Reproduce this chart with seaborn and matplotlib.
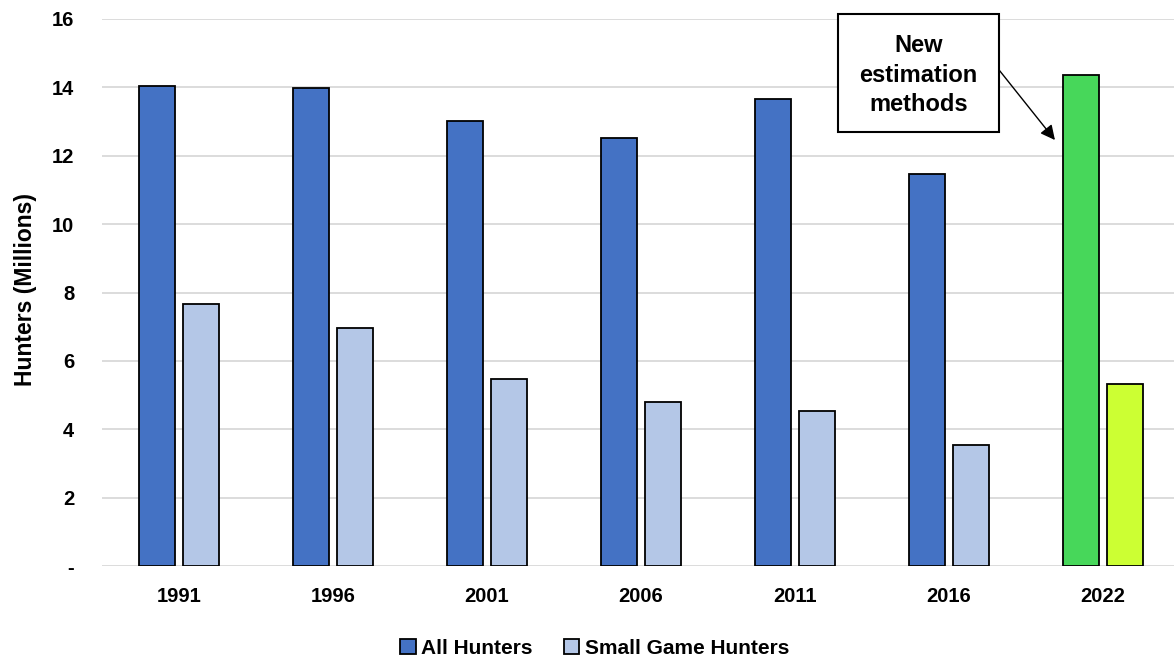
import pandas as pd
import matplotlib
matplotlib.use("Agg")
import matplotlib.pyplot as plt
from matplotlib.patches import Rectangle
import seaborn as sns

# data (millions of hunters)
years = ["1991", "1996", "2001", "2006", "2011", "2016", "2022"]
all_hunters = [14.04, 13.98, 13.02, 12.52, 13.66, 11.46, 14.36]
small_game = [7.66, 6.96, 5.47, 4.80, 4.53, 3.54, 5.32]
series = ["All Hunters", "Small Game Hunters"]
colors = ["#4472C4", "#B4C7E7"]
colors_2022 = ["#47D75A", "#CCFF33"]

df = pd.DataFrame({
    "Year": years * 2,
    "Hunters": all_hunters + small_game,
    "Series": [series[0]] * len(years) + [series[1]] * len(years),
})

sns.set_style("white")
plt.rcParams["font.family"] = "Liberation Sans"
plt.rcParams["font.weight"] = "bold"
for k in ["text.color", "axes.labelcolor", "xtick.color", "ytick.color"]:
    plt.rcParams[k] = "black"

fig = plt.figure(figsize=(11.74, 6.6), dpi=100)
ax = fig.add_axes([102 / 1174, 94 / 660, 1078 / 1174, 547 / 660])

sns.barplot(data=df, x="Year", y="Hunters", hue="Series", palette=colors,
            width=0.57, gap=0.2, edgecolor="black", linewidth=1.3,
            saturation=1, ax=ax)

# 2022 bars get their own colours (new estimation methods)
for cont, c in zip(ax.containers, colors_2022):
    cont.patches[-1].set_facecolor(c)

ax.set_ylim(0, 16)
ax.set_xlim(-0.5, 6.5)
ax.set_yticks(range(0, 17, 2))
ax.set_yticklabels(["-"] + [str(v) for v in range(2, 17, 2)])
ax.yaxis.grid(True, color="#D9D9D9", linewidth=1.3)
ax.set_axisbelow(True)
for s in ax.spines.values():
    s.set_visible(False)
ax.tick_params(axis="both", length=0, labelsize=14.5)
ax.tick_params(axis="y", pad=20)
ax.tick_params(axis="x", pad=15)
for lab in ax.get_xticklabels() + ax.get_yticklabels():
    lab.set_fontweight("bold")
ax.set_xlabel("")
ax.set_ylabel("Hunters (Millions)", fontsize=16.5, fontweight="bold")
ax.yaxis.set_label_coords(-0.060, 0.505)

# callout box + arrow
ax.add_patch(Rectangle((4.279, 12.69), 1.046, 3.46, fc="white", ec="black",
                       lw=1.5, clip_on=False, zorder=5))
ax.text(4.80, 14.36, "New\nestimation\nmethods", ha="center", va="center",
        fontsize=17, fontweight="bold", linespacing=1.35, zorder=6)
ax.annotate("", xy=(5.688, 12.46), xytext=(5.325, 14.51),
            arrowprops=dict(arrowstyle="-|>", color="black", lw=1,
                            mutation_scale=22, shrinkA=0, shrinkB=0))

sns.move_legend(ax, "center", bbox_to_anchor=(0.457, -0.15), ncol=2,
                frameon=False, title=None, fontsize=15, handlelength=0.75,
                handleheight=0.75, handletextpad=0.25, columnspacing=1.5)
for t in ax.get_legend().get_texts():
    t.set_fontweight("bold")

fig.savefig("out.png", dpi=100)
